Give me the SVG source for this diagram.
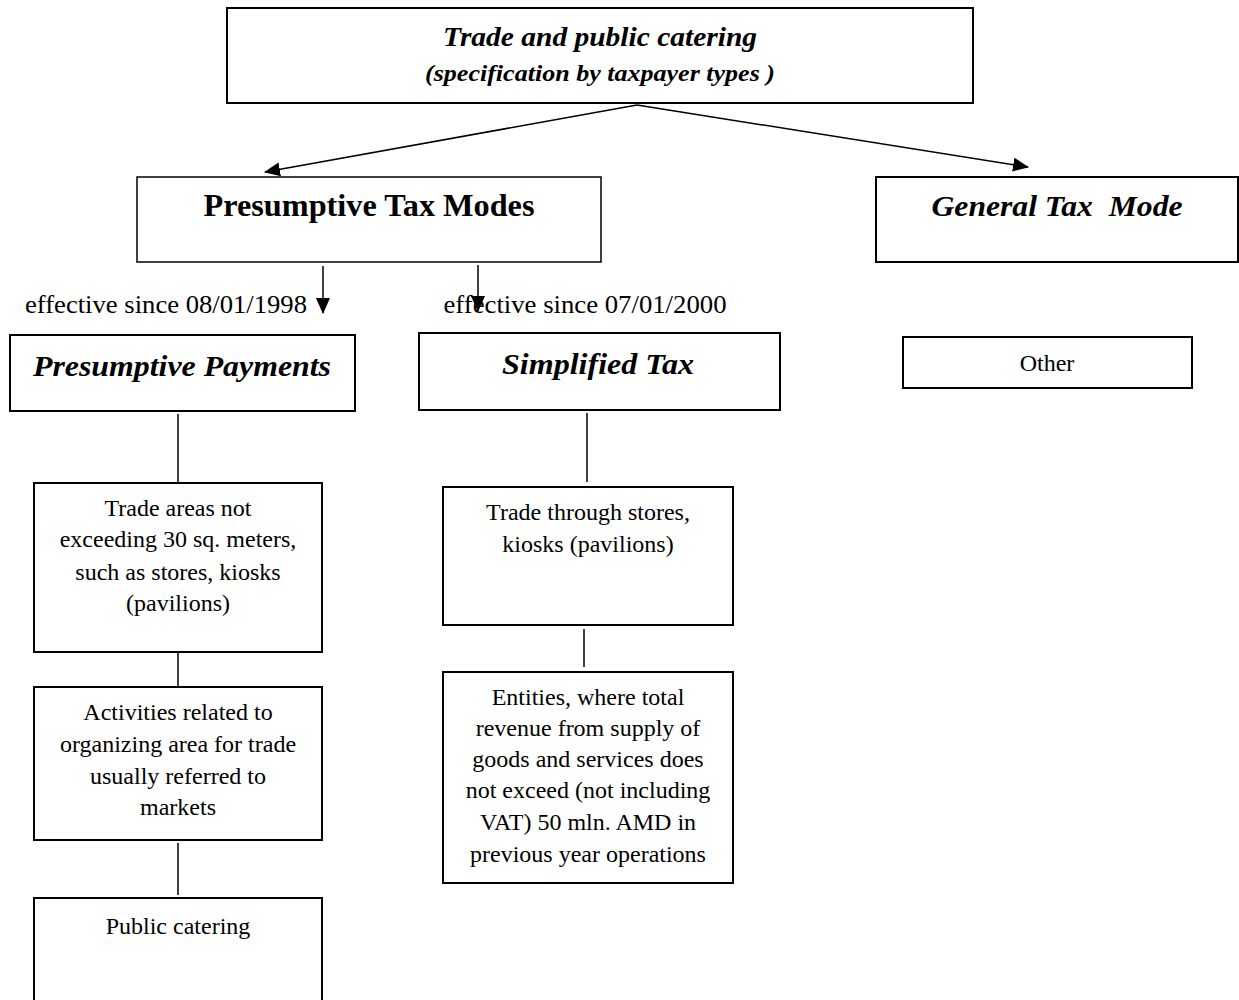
<svg xmlns="http://www.w3.org/2000/svg" width="1239" height="1000" viewBox="0 0 1239 1000">
<style>
.box{fill:#fff;stroke:#000;stroke-width:1.5}
.thick{stroke-width:2}
.t{font-family:"Liberation Serif","Times New Roman",serif;fill:#000;text-anchor:middle}
.bi{font-weight:bold;font-style:italic}
.b{font-weight:bold}
.r{font-size:24px}
.c{stroke:#000;stroke-width:1.5;fill:none}
</style>
<defs>
<marker id="ah" markerUnits="userSpaceOnUse" markerWidth="16" markerHeight="14" refX="15" refY="7" orient="auto">
<path d="M0,0 L16,7 L0,14 Z" fill="#000"/>
</marker>
</defs>
<g id="connectors">
<line class="c" x1="637" y1="105" x2="265" y2="172" marker-end="url(#ah)"/>
<line class="c" x1="637" y1="105" x2="1028" y2="167" marker-end="url(#ah)"/>
<line class="c" x1="323" y1="266" x2="323" y2="313" marker-end="url(#ah)"/>
<line class="c" x1="478" y1="265" x2="478" y2="311" marker-end="url(#ah)"/>
<line class="c" x1="178" y1="414" x2="178" y2="483"/>
<line class="c" x1="178" y1="652" x2="178" y2="686"/>
<line class="c" x1="178" y1="843" x2="178" y2="895"/>
<line class="c" x1="587" y1="413" x2="587" y2="482"/>
<line class="c" x1="584" y1="629" x2="584" y2="667"/>
</g>
<g id="top">
<rect class="box thick" x="227" y="8" width="746" height="95"/>
<text class="t bi" x="600" y="46" font-size="28" textLength="314" lengthAdjust="spacingAndGlyphs">Trade and public catering</text>
<text class="t bi" x="600" y="81" font-size="23" textLength="350" lengthAdjust="spacingAndGlyphs">(specification by taxpayer types )</text>
</g>
<g id="ptm">
<rect class="box" x="137" y="177" width="464" height="85"/>
<text class="t b" x="369" y="216" font-size="31" textLength="331" lengthAdjust="spacingAndGlyphs">Presumptive Tax Modes</text>
</g>
<g id="gtm">
<rect class="box thick" x="876" y="177" width="362" height="85"/>
<text class="t bi" x="1057" y="216" font-size="30" textLength="251" lengthAdjust="spacingAndGlyphs" xml:space="preserve">General Tax  Mode</text>
</g>
<g id="labels">
<text class="t" x="166" y="313" font-size="26" textLength="282" lengthAdjust="spacingAndGlyphs">effective since 08/01/1998</text>
<text class="t" x="585" y="313" font-size="26" textLength="283" lengthAdjust="spacingAndGlyphs">effective since 07/01/2000</text>
</g>
<g id="pp">
<rect class="box thick" x="10" y="335" width="345" height="76"/>
<text class="t bi" x="182" y="376" font-size="29" textLength="298" lengthAdjust="spacingAndGlyphs">Presumptive Payments</text>
</g>
<g id="st">
<rect class="box thick" x="419" y="333" width="361" height="77"/>
<text class="t bi" x="598" y="374" font-size="29" textLength="192" lengthAdjust="spacingAndGlyphs">Simplified Tax</text>
</g>
<g id="other">
<rect class="box thick" x="903" y="337" width="289" height="51"/>
<text class="t r" x="1047" y="371">Other</text>
</g>
<g id="boxA">
<rect class="box thick" x="34" y="483" width="288" height="169"/>
<text class="t r" x="178" y="516">Trade areas not</text>
<text class="t r" x="178" y="547">exceeding 30 sq. meters,</text>
<text class="t r" x="178" y="580">such as stores, kiosks</text>
<text class="t r" x="178" y="611">(pavilions)</text>
</g>
<g id="boxB">
<rect class="box thick" x="34" y="687" width="288" height="153"/>
<text class="t r" x="178" y="720">Activities related to</text>
<text class="t r" x="178" y="752">organizing area for trade</text>
<text class="t r" x="178" y="784">usually referred to</text>
<text class="t r" x="178" y="815">markets</text>
</g>
<g id="boxC">
<rect class="box thick" x="34" y="898" width="288" height="110"/>
<text class="t r" x="178" y="934">Public catering</text>
</g>
<g id="boxD">
<rect class="box thick" x="443" y="487" width="290" height="138"/>
<text class="t r" x="588" y="520">Trade through stores,</text>
<text class="t r" x="588" y="552">kiosks (pavilions)</text>
</g>
<g id="boxE">
<rect class="box thick" x="443" y="672" width="290" height="211"/>
<text class="t r" x="588" y="705">Entities, where total</text>
<text class="t r" x="588" y="736">revenue from supply of</text>
<text class="t r" x="588" y="767">goods and services does</text>
<text class="t r" x="588" y="798">not exceed (not including</text>
<text class="t r" x="588" y="830">VAT) 50 mln. AMD in</text>
<text class="t r" x="588" y="862">previous year operations</text>
</g>
</svg>
